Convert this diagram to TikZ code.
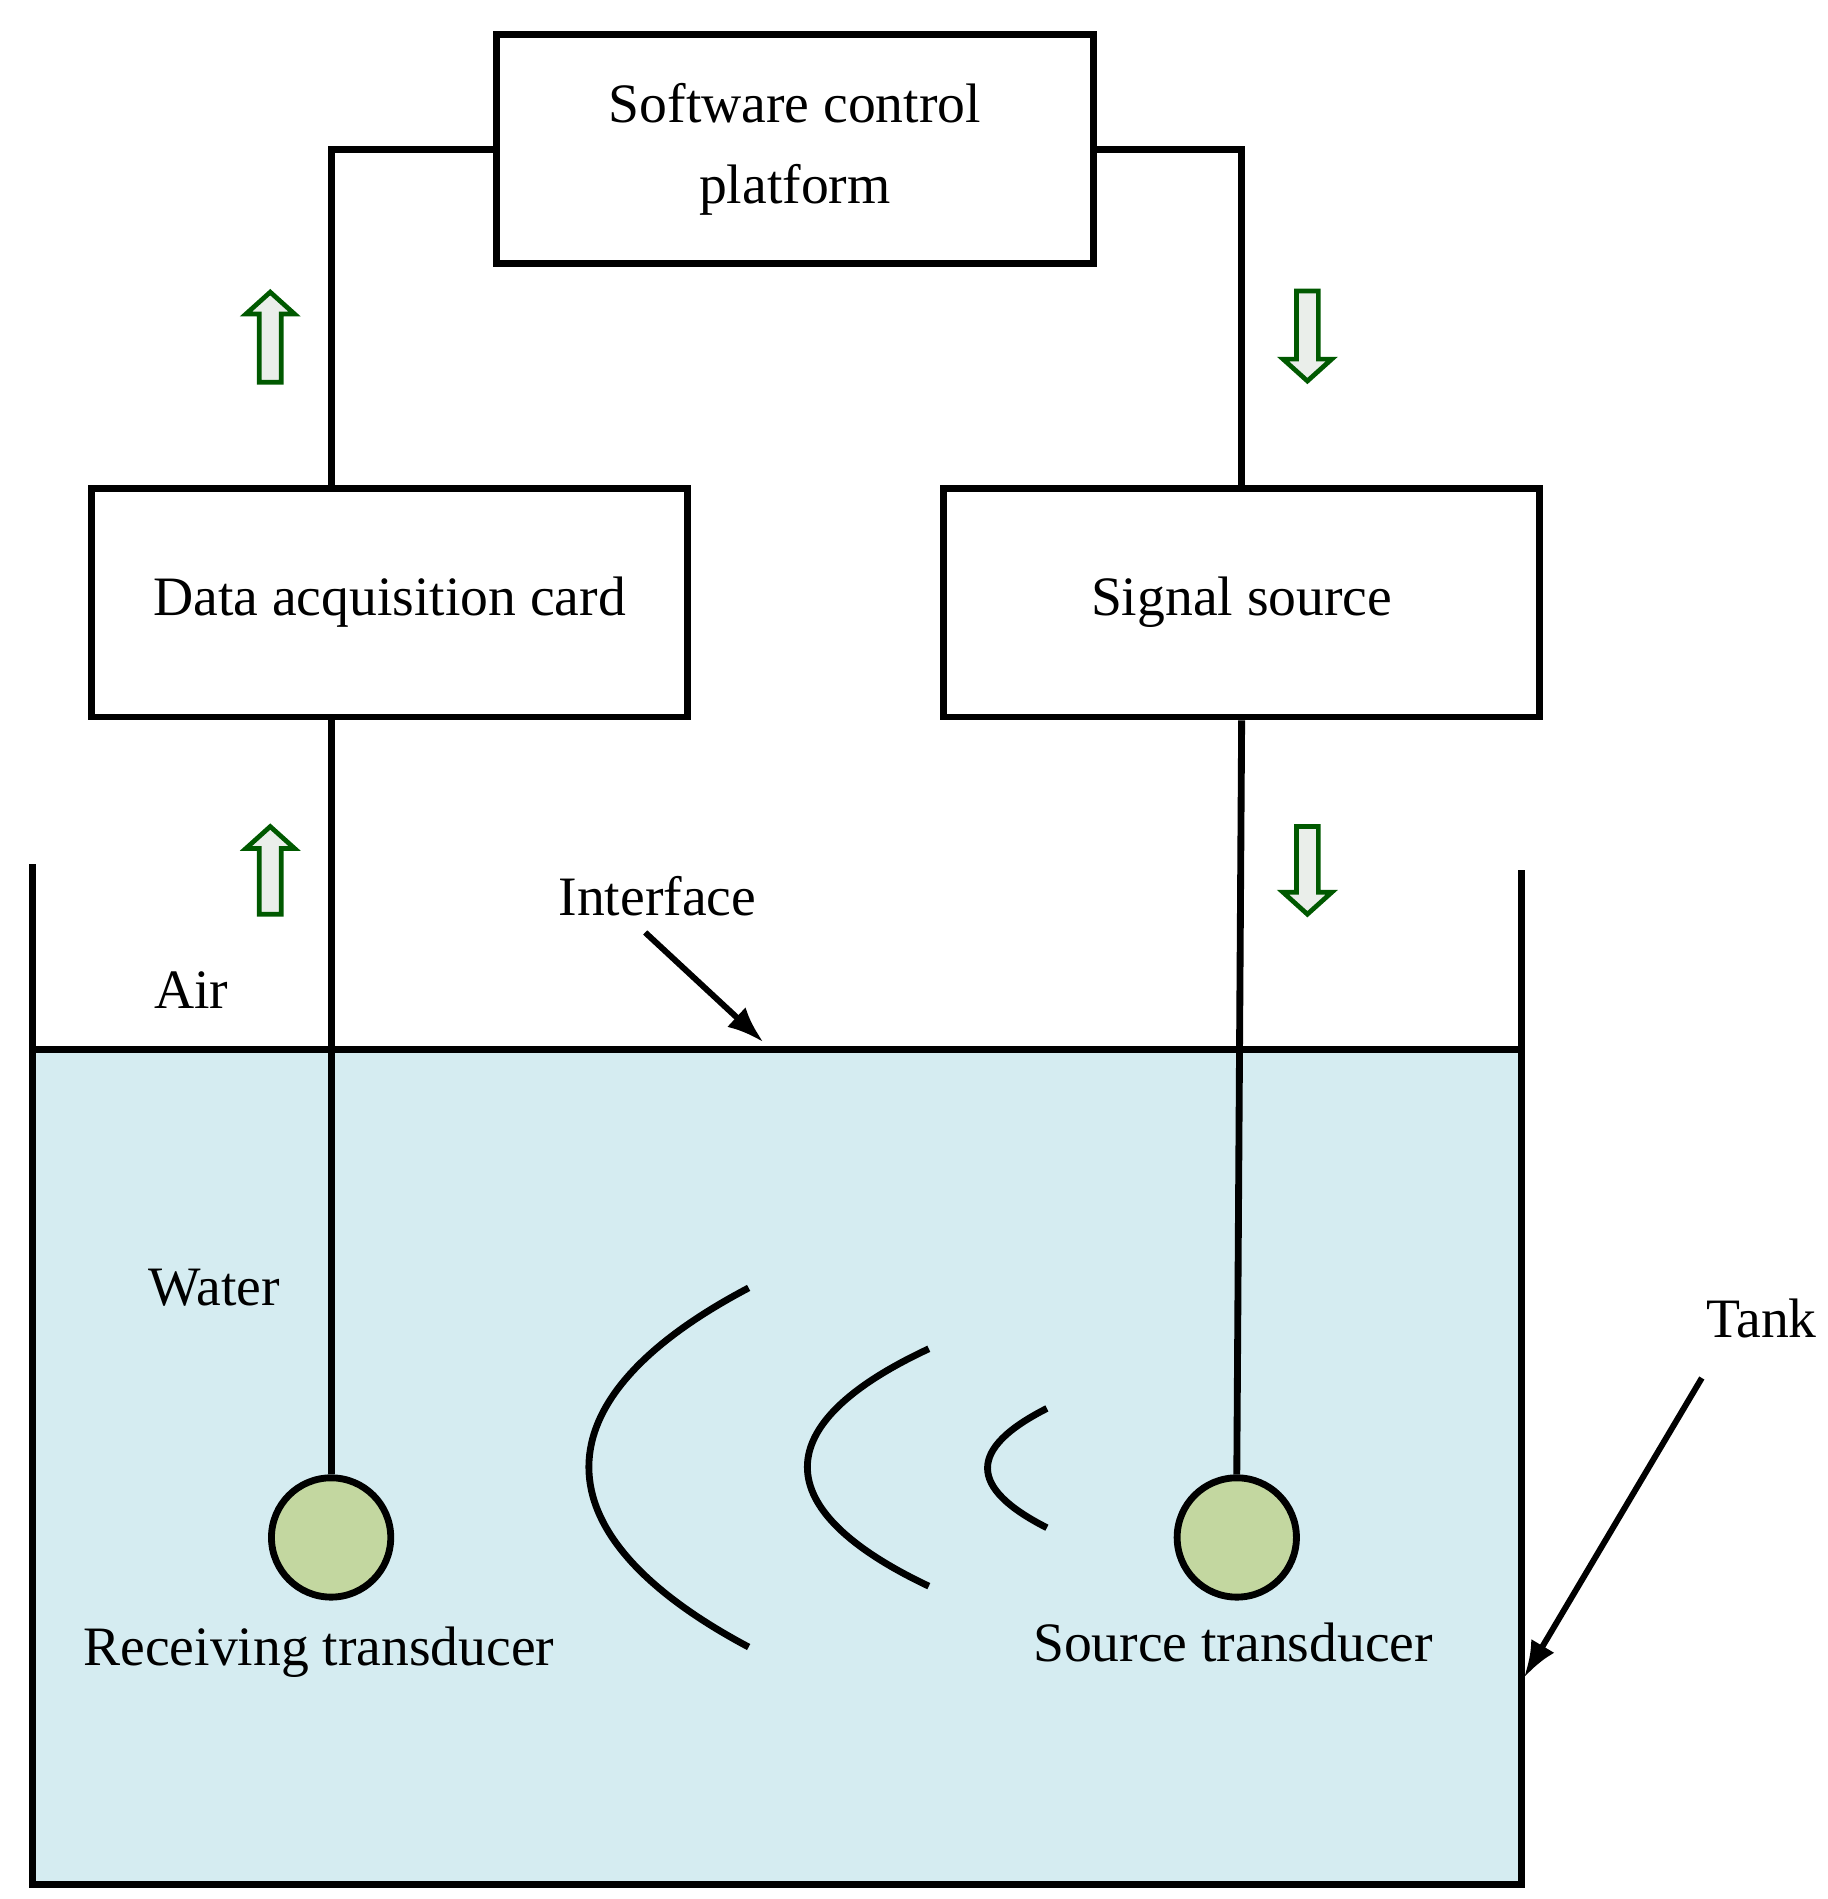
\documentclass[tikz,border=0pt]{standalone}
\usepackage{fontspec}
\setmainfont{Liberation Serif}
\begin{document}
\begin{tikzpicture}[x=0.1mm,y=-0.1mm,line width=1.6pt,
  box/.style={draw,minimum width=49mm,minimum height=18.8mm,inner sep=0pt,align=center,font=\fontsize{13}{19}\selectfont},
  lbl/.style={font=\fontsize{13}{16}\selectfont,inner sep=0pt},
  harrow/.style={draw=green!35!black,fill=green!12!gray!15,line width=1.1pt},
  arr/.style={-{Latex[length=3mm,width=2.2mm]},line width=1.4pt}]
\usetikzlibrary{arrows.meta}
\useasboundingbox (0,0) rectangle (1501,1560);
% water
\fill[fill={rgb,255:red,213;green,236;blue,241}] (27,862) rectangle (1250,1548);
\draw (27,710) -- (27,1548) -- (1250,1548) -- (1250,715);
\draw (27,862) -- (1250,862);
% boxes
\node[box] (sw) at (653,122.5) {Software control\\platform};
\node[box] (daq) at (320,495) {Data acquisition card};
\node[box] (sig) at (1020,495) {Signal source};
\draw (sw.west) -| (daq.north -| 272,0);
\draw (sw.east) -| (sig.north);
% transducers
\node[circle,draw,fill={rgb,255:red,195;green,215;blue,160},minimum size=9.8mm,inner sep=0pt] (rx) at (272,1263) {};
\node[circle,draw,fill={rgb,255:red,195;green,215;blue,160},minimum size=9.8mm,inner sep=0pt] (tx) at (1016,1263) {};
\draw (272,589) -- (rx.north);
\draw (sig.south) -- (tx.north);
% hollow arrows
\newcommand\hup[3]{\draw[harrow] (#1-9,#3) -- (#1-9,#2+18) -- (#1-20,#2+18) -- (#1,#2) -- (#1+20,#2+18) -- (#1+9,#2+18) -- (#1+9,#3) -- cycle;}
\newcommand\hdown[3]{\draw[harrow] (#1-9,#2) -- (#1-9,#3-18) -- (#1-20,#3-18) -- (#1,#3) -- (#1+20,#3-18) -- (#1+9,#3-18) -- (#1+9,#2) -- cycle;}
\hup{222}{240}{314}
\hup{222}{679}{751}
\hdown{1074}{239}{313}
\hdown{1074}{679}{751}
% labels
\node[lbl] (iface) at (540,736) {Interface};
\coordinate (ifend) at (627,856);
\draw[arr] (530,766) -- (ifend);
\node[lbl] (air) at (157,813) {Air};
\node[lbl] (water) at (176,1058) {Water};
\node[lbl] (tank) at (1447,1083) {Tank};
\coordinate (tankend) at (1252,1378);
\draw[arr] (1398,1132) -- (tankend);
\node[lbl] (rxl) at (262,1357) {Receiving transducer};
\node[lbl] (txl) at (1013,1349) {Source transducer};
% waves
\draw (615,1058) .. controls (440,1150) and (440,1260) .. (615,1353);
\draw (763,1108) .. controls (630,1170) and (630,1240) .. (763,1303);
\draw (860,1157) .. controls (795,1190) and (795,1222) .. (860,1255);
\end{tikzpicture}
\end{document}
